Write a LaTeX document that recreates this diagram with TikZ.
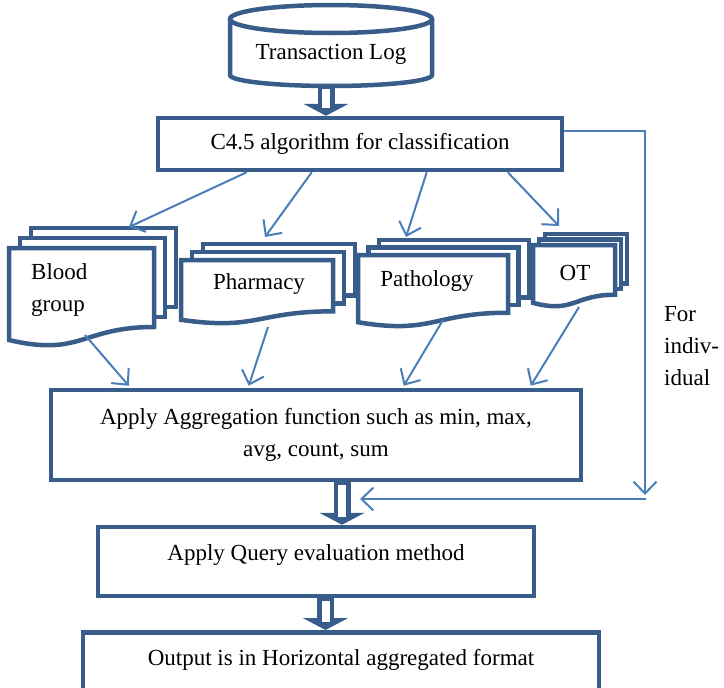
\documentclass[tikz,border=0pt]{standalone}
\usepackage{fontspec}
\setmainfont{Liberation Serif}
\usetikzlibrary{calc,arrows.meta}

\definecolor{boxblue}{RGB}{56,93,138}
\definecolor{linkblue}{RGB}{74,126,187}

\tikzset{
  box/.style={draw=boxblue, line width=4.5pt, fill=white, inner sep=0pt, font=\fontsize{23}{32}\selectfont, align=center},
  lbl/.style={font=\fontsize{23}{32}\selectfont, align=center, inner sep=0pt},
  conn/.style={draw=linkblue, line width=2pt, -{Straight Barb[length=12pt,width=23pt]}},
  fatlink/.style={boxblue, line width=17pt, -{Triangle[length=12pt,width=45pt]}},
  fatcore/.style={white, line width=8pt, shorten <=2.5pt, shorten >=8pt},
}

% x y w h dx dy
\newcommand\docstack[6]{
  \foreach \k in {2,1}
    \filldraw[box] ({#1+\k*#5},{#2+\k*#6}) rectangle ++({#3},{0.802*#4});
  \filldraw[box] (#1,#2) -- ({#1+#3},#2) -- ({#1+#3},{#2+0.802*#4})
    .. controls ({#1+0.5*#3},{#2+0.802*#4}) and ({#1+0.5*#3},{#2+1.107*#4}) .. (#1,{#2+0.934*#4}) -- cycle;
}

\begin{document}
\begin{tikzpicture}[x=1pt, y=-1pt]
  \useasboundingbox (0,0) rectangle (724,688);

  \filldraw[box] (230,19) -- (230,75) arc[start angle=180, end angle=0, x radius=101, y radius=11] -- (432,19);
  \draw[box] (331,19) ellipse[x radius=101, y radius=14];
  \node[lbl] (log) at (331,54) {Transaction Log};
  \coordinate (logbot) at (326,86);

  \node[box, minimum width=404pt, minimum height=52pt] (cls) at (360,144) {C4.5 algorithm for classification};

  \docstack{9}{248}{145}{98.5}{11}{-10}
  \docstack{181}{260}{152}{64}{11}{-8}
  \docstack{358}{255}{150}{72}{10.5}{-7.5}
  \docstack{533}{245}{82}{62}{6}{-5.5}

  \node[lbl, align=left, anchor=west] (blood) at (31,290) {Blood\\group};
  \node[lbl] (pharm) at (259,284) {Pharmacy};
  \node[lbl] (patho) at (427,281) {Pathology};
  \node[lbl] (ot) at (575,273) {OT};

  \coordinate (blood-in) at (129,227);
  \coordinate (pharm-in) at (265,237);
  \coordinate (patho-in) at (406,237);
  \coordinate (ot-in) at (559,226);
  \coordinate (blood-out) at (85,335);
  \coordinate (pharm-out) at (268,327);
  \coordinate (patho-out) at (443,320);
  \coordinate (ot-out) at (579,307);

  \node[box, minimum width=530pt, minimum height=90pt] (agg) at (316,435) {Apply Aggregation function such as min, max,\\avg, count, sum};
  \node[box, minimum width=436pt, minimum height=69pt] (query) at (316,561.5) {};
  \node[lbl] (querytxt) at (316,555) {Apply Query evaluation method};
  \node[box, minimum width=516pt, minimum height=100pt, anchor=north] (out) at (341,630) {};
  \node[lbl] (outtxt) at (341,660) {Output is in Horizontal aggregated format};

  \node[lbl, align=left, anchor=west] (note) at (664,346) {For\\indiv-\\idual};
  \coordinate (fb) at (645,495);
  \coordinate (fbstart) at (646,499);
  \coordinate (merge) at (360,499);

  \draw[fatlink] (logbot) -- (logbot |- cls.north);
  \draw[fatcore] (logbot) -- (logbot |- cls.north);
  \coordinate (a1) at ($(agg.south)+(26,0)$);
  \draw[fatlink] (a1) -- (a1 |- query.north);
  \draw[fatcore] (a1) -- (a1 |- query.north);
  \coordinate (q1) at ($(query.south)+(9.5,0)$);
  \draw[fatlink] (q1) -- (q1 |- out.north);
  \draw[fatcore] (q1) -- (q1 |- out.north);

  \draw[conn] ($(cls.south west)+(91,0)$) -- (blood-in);
  \draw[conn] ($(cls.south west)+(156,0)$) -- (pharm-in);
  \draw[conn] ($(cls.south west)+(271,0)$) -- (patho-in);
  \draw[conn] ($(cls.south west)+(352,0)$) -- (ot-in);

  \draw[conn] (blood-out) -- ($(agg.north west)+(80,-2)$);
  \draw[conn] (pharm-out) -- ($(agg.north west)+(200,-2)$);
  \draw[conn] (patho-out) -- ($(agg.north west)+(355,-2)$);
  \draw[conn] (ot-out) -- ($(agg.north west)+(482,-2)$);

  \draw[conn] ($(cls.north east)+(0,15)$) -| (fb);
  \draw[conn] (fbstart) -- (merge);
\end{tikzpicture}
\end{document}
